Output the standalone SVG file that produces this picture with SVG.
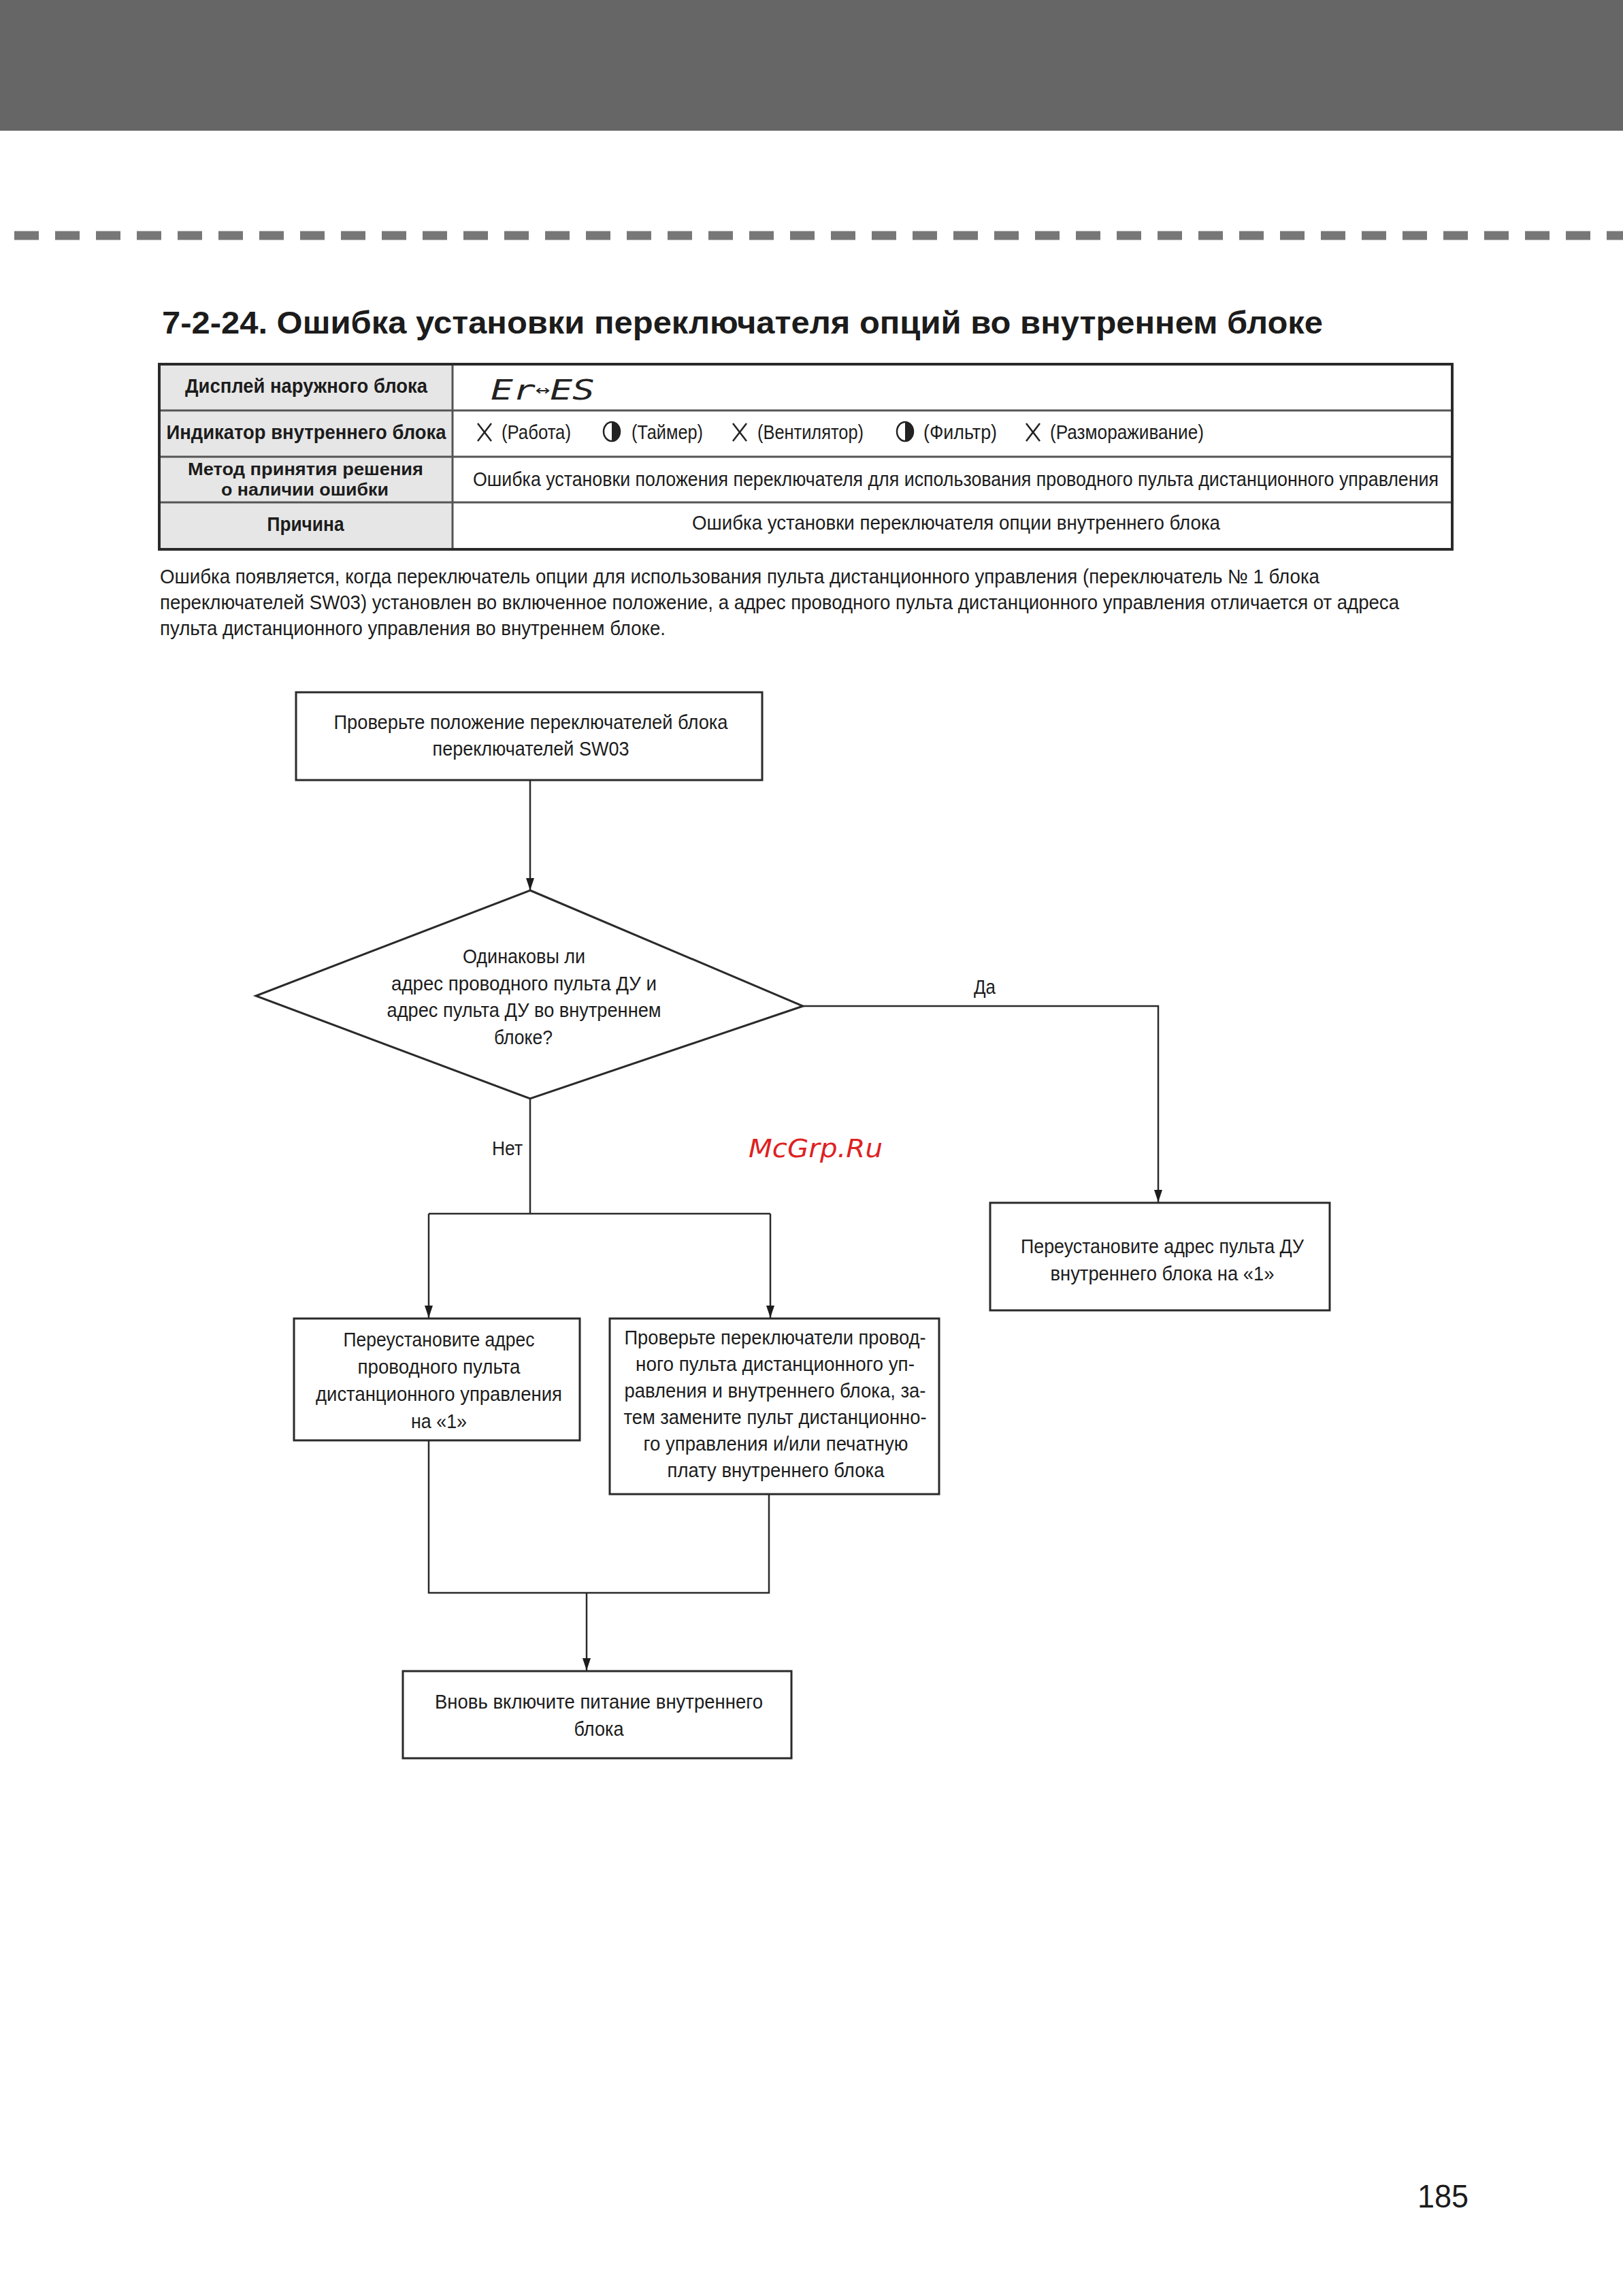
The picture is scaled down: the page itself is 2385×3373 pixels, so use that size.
<svg xmlns="http://www.w3.org/2000/svg" width="2385" height="3373" viewBox="0 0 2385 3373">
<defs>
<style>
.t{font-family:"Liberation Sans",Arial,sans-serif;font-size:30px;fill:#1c1c1c}
.b{font-weight:bold}
.c{text-anchor:middle}
.box{fill:#fff;stroke:#2a2a2a;stroke-width:3}
.ln{fill:none;stroke:#2a2a2a;stroke-width:2.5}
.grid{stroke:#555;stroke-width:3}
.x{stroke:#222;stroke-width:2.5}
</style>
<marker id="ah" markerUnits="userSpaceOnUse" viewBox="0 0 18 12" markerWidth="18" markerHeight="12" refX="18" refY="6" orient="auto">
<path d="M0,0 L18,6 L0,12 z" fill="#1c1c1c"/>
</marker>
</defs>
<rect width="2385" height="3373" fill="#fff"/>
<g id="header">
<rect x="0" y="0" width="2385" height="192" fill="#666"/>
<line x1="21" y1="346" x2="2385" y2="346" stroke="#777" stroke-width="13" stroke-dasharray="36 24"/>
</g>
<text class="t b" x="238" y="490" style="font-size:46px" textLength="1706" lengthAdjust="spacingAndGlyphs">7-2-24. Ошибка установки переключателя опций во внутреннем блоке</text>
<g id="table">
<rect x="234" y="535" width="431" height="272" fill="#e6e6e6"/>
<line class="grid" x1="234" y1="603" x2="2134" y2="603"/>
<line class="grid" x1="234" y1="671" x2="2134" y2="671"/>
<line class="grid" x1="234" y1="738" x2="2134" y2="738"/>
<line class="grid" x1="665" y1="535" x2="665" y2="807"/>
<rect x="234" y="535" width="1900" height="272" fill="none" stroke="#2a2a2a" stroke-width="4"/>
<text class="t b c" x="450" y="577" textLength="356" lengthAdjust="spacingAndGlyphs">Дисплей наружного блока</text>
<text class="t b c" x="450" y="645" textLength="411" lengthAdjust="spacingAndGlyphs">Индикатор внутреннего блока</text>
<text class="t b c" x="449" y="698" style="font-size:26px" textLength="346" lengthAdjust="spacingAndGlyphs">Метод принятия решения</text>
<text class="t b c" x="448" y="728" style="font-size:26px" textLength="246" lengthAdjust="spacingAndGlyphs">о наличии ошибки</text>
<text class="t b c" x="449" y="780" textLength="113" lengthAdjust="spacingAndGlyphs">Причина</text>
<text x="721" y="587" style="font-family:'DejaVu Sans Mono',monospace;font-style:italic;font-size:40px;fill:#222" textLength="153" lengthAdjust="spacingAndGlyphs">Er<tspan style="font-size:26px" dy="-6">↔</tspan><tspan dy="6">ES</tspan></text>
<line class="x" x1="702" y1="622" x2="722" y2="648"/><line class="x" x1="722" y1="622" x2="702" y2="648"/>
<text class="t" x="737" y="645" textLength="102" lengthAdjust="spacingAndGlyphs">(Работа)</text>
<ellipse cx="899" cy="634" rx="12" ry="14" fill="#fff" stroke="#222" stroke-width="2.5"/>
<path d="M899,620 A12,14 0 0 1 899,648 z" fill="#222"/>
<text class="t" x="928" y="645" textLength="105" lengthAdjust="spacingAndGlyphs">(Таймер)</text>
<line class="x" x1="1077" y1="622" x2="1097" y2="648"/><line class="x" x1="1097" y1="622" x2="1077" y2="648"/>
<text class="t" x="1113" y="645" textLength="156" lengthAdjust="spacingAndGlyphs">(Вентилятор)</text>
<ellipse cx="1330" cy="634" rx="12" ry="14" fill="#fff" stroke="#222" stroke-width="2.5"/>
<path d="M1330,620 A12,14 0 0 1 1330,648 z" fill="#222"/>
<text class="t" x="1357" y="645" textLength="108" lengthAdjust="spacingAndGlyphs">(Фильтр)</text>
<line class="x" x1="1508" y1="622" x2="1528" y2="648"/><line class="x" x1="1528" y1="622" x2="1508" y2="648"/>
<text class="t" x="1543" y="645" textLength="226" lengthAdjust="spacingAndGlyphs">(Размораживание)</text>
<text class="t" x="695" y="714" textLength="1419" lengthAdjust="spacingAndGlyphs">Ошибка установки положения переключателя для использования проводного пульта дистанционного управления</text>
<text class="t c" x="1405" y="778" textLength="776" lengthAdjust="spacingAndGlyphs">Ошибка установки переключателя опции внутреннего блока</text>
</g>
<g id="description">
<text class="t" x="235" y="857" style="font-size:29px" textLength="1704" lengthAdjust="spacingAndGlyphs">Ошибка появляется, когда переключатель опции для использования пульта дистанционного управления (переключатель № 1 блока</text>
<text class="t" x="235" y="895" style="font-size:29px" textLength="1821" lengthAdjust="spacingAndGlyphs">переключателей SW03) установлен во включенное положение, а адрес проводного пульта дистанционного управления отличается от адреса</text>
<text class="t" x="235" y="933" style="font-size:29px" textLength="743" lengthAdjust="spacingAndGlyphs">пульта дистанционного управления во внутреннем блоке.</text>
</g>
<g id="connectors">
<path class="ln" d="M779,1146 V1308" marker-end="url(#ah)"/>
<path class="ln" d="M1180,1478 H1702 V1766" marker-end="url(#ah)"/>
<path class="ln" d="M779,1614 V1783"/>
<path class="ln" d="M630,1783 H1132"/>
<path class="ln" d="M630,1783 V1936" marker-end="url(#ah)"/>
<path class="ln" d="M1132,1783 V1936" marker-end="url(#ah)"/>
<path class="ln" d="M630,2116 V2340 H1130 V2195"/>
<path class="ln" d="M862,2340 V2454" marker-end="url(#ah)"/>
<text class="t" x="1431" y="1460" textLength="32" lengthAdjust="spacingAndGlyphs">Да</text>
<text class="t" x="723" y="1697" textLength="45" lengthAdjust="spacingAndGlyphs">Нет</text>
</g>
<g id="n1">
<rect class="box" x="435" y="1017" width="685" height="129"/>
<text class="t c" x="780" y="1071" textLength="579" lengthAdjust="spacingAndGlyphs">Проверьте положение переключателей блока</text>
<text class="t c" x="780" y="1110" textLength="289" lengthAdjust="spacingAndGlyphs">переключателей SW03</text>
</g>
<g id="n2">
<polygon class="box" points="779,1308 1180,1478 779,1614 376,1463"/>
<text class="t c" x="770" y="1415" textLength="180" lengthAdjust="spacingAndGlyphs">Одинаковы ли</text>
<text class="t c" x="770" y="1455" textLength="390" lengthAdjust="spacingAndGlyphs">адрес проводного пульта ДУ и</text>
<text class="t c" x="770" y="1494" textLength="403" lengthAdjust="spacingAndGlyphs">адрес пульта ДУ во внутреннем</text>
<text class="t c" x="769" y="1534" textLength="86" lengthAdjust="spacingAndGlyphs">блоке?</text>
</g>
<g id="n3">
<rect class="box" x="1455" y="1767" width="499" height="158"/>
<text class="t c" x="1708" y="1841" textLength="416" lengthAdjust="spacingAndGlyphs">Переустановите адрес пульта ДУ</text>
<text class="t c" x="1708" y="1881" textLength="329" lengthAdjust="spacingAndGlyphs">внутреннего блока на «1»</text>
</g>
<g id="n4">
<rect class="box" x="432" y="1937" width="420" height="179"/>
<text class="t c" x="645" y="1978" textLength="281" lengthAdjust="spacingAndGlyphs">Переустановите адрес</text>
<text class="t c" x="645" y="2018" textLength="239" lengthAdjust="spacingAndGlyphs">проводного пульта</text>
<text class="t c" x="645" y="2058" textLength="362" lengthAdjust="spacingAndGlyphs">дистанционного управления</text>
<text class="t c" x="645" y="2098" textLength="82" lengthAdjust="spacingAndGlyphs">на «1»</text>
</g>
<g id="n5">
<rect class="box" x="896" y="1937" width="484" height="258"/>
<text class="t c" x="1139" y="1975" textLength="443" lengthAdjust="spacingAndGlyphs">Проверьте переключатели провод-</text>
<text class="t c" x="1139" y="2014" textLength="410" lengthAdjust="spacingAndGlyphs">ного пульта дистанционного уп-</text>
<text class="t c" x="1139" y="2053" textLength="443" lengthAdjust="spacingAndGlyphs">равления и внутреннего блока, за-</text>
<text class="t c" x="1139" y="2092" textLength="445" lengthAdjust="spacingAndGlyphs">тем замените пульт дистанционно-</text>
<text class="t c" x="1140" y="2131" textLength="389" lengthAdjust="spacingAndGlyphs">го управления и/или печатную</text>
<text class="t c" x="1140" y="2170" textLength="319" lengthAdjust="spacingAndGlyphs">плату внутреннего блока</text>
</g>
<g id="n6">
<rect class="box" x="592" y="2455" width="571" height="128"/>
<text class="t c" x="880" y="2510" textLength="482" lengthAdjust="spacingAndGlyphs">Вновь включите питание внутреннего</text>
<text class="t c" x="880" y="2550" textLength="73" lengthAdjust="spacingAndGlyphs">блока</text>
</g>
<text x="1100" y="1700" style="font-family:'DejaVu Sans',sans-serif;font-style:italic;font-size:37px;fill:#dd2222" textLength="197" lengthAdjust="spacingAndGlyphs">McGrp.Ru</text>
<text class="t" x="2083" y="3243" style="font-size:48px" textLength="75" lengthAdjust="spacingAndGlyphs">185</text>
</svg>
